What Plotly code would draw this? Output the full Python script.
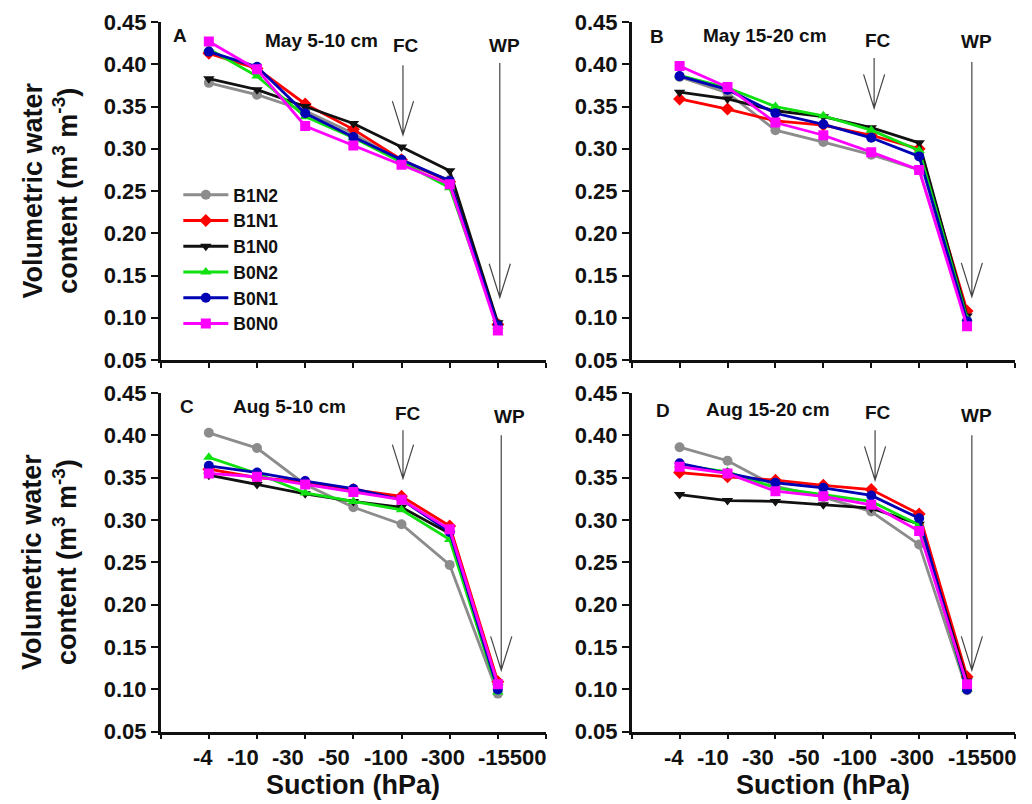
import plotly.graph_objects as go

# ---------------- data ----------------
SUCTION = ["-4", "-10", "-30", "-50", "-100", "-300", "-15500"]
SERIES = ["B1N2", "B1N1", "B1N0", "B0N2", "B0N1", "B0N0"]
PANEL_TITLES = ["May 5-10 cm", "May 15-20 cm", "Aug 5-10 cm", "Aug 15-20 cm"]
PANEL_LETTERS = ["A", "B", "C", "D"]

A_B1N2 = [0.378, 0.364, 0.345, 0.318, 0.284, 0.263, 0.093]
A_B1N1 = [0.413, 0.395, 0.353, 0.323, 0.287, 0.261, 0.092]
A_B1N0 = [0.383, 0.370, 0.350, 0.330, 0.302, 0.274, 0.094]
A_B0N2 = [0.418, 0.386, 0.338, 0.313, 0.284, 0.254, 0.090]
A_B0N1 = [0.415, 0.397, 0.342, 0.314, 0.287, 0.262, 0.091]
A_B0N0 = [0.427, 0.394, 0.327, 0.304, 0.281, 0.258, 0.085]

B_B1N2 = [0.385, 0.366, 0.322, 0.308, 0.293, 0.275, 0.096]
B_B1N1 = [0.359, 0.347, 0.333, 0.328, 0.316, 0.300, 0.108]
B_B1N0 = [0.367, 0.359, 0.345, 0.338, 0.325, 0.307, 0.102]
B_B0N2 = [0.387, 0.372, 0.350, 0.339, 0.322, 0.298, 0.099]
B_B0N1 = [0.386, 0.370, 0.342, 0.329, 0.313, 0.291, 0.096]
B_B0N0 = [0.398, 0.373, 0.331, 0.316, 0.296, 0.275, 0.090]

C_B1N2 = [0.403, 0.385, 0.342, 0.315, 0.295, 0.247, 0.095]
C_B1N1 = [0.360, 0.350, 0.345, 0.336, 0.328, 0.293, 0.109]
C_B1N0 = [0.353, 0.342, 0.331, 0.322, 0.315, 0.284, 0.103]
C_B0N2 = [0.374, 0.355, 0.332, 0.322, 0.312, 0.277, 0.097]
C_B0N1 = [0.364, 0.356, 0.346, 0.337, 0.324, 0.286, 0.100]
C_B0N0 = [0.355, 0.351, 0.342, 0.333, 0.324, 0.289, 0.106]

D_B1N2 = [0.386, 0.370, 0.340, 0.327, 0.310, 0.271, 0.099]
D_B1N1 = [0.356, 0.351, 0.347, 0.341, 0.336, 0.307, 0.115]
D_B1N0 = [0.330, 0.323, 0.322, 0.318, 0.314, 0.295, 0.110]
D_B0N2 = [0.365, 0.357, 0.338, 0.330, 0.322, 0.294, 0.100]
D_B0N1 = [0.367, 0.355, 0.344, 0.338, 0.329, 0.302, 0.100]
D_B0N0 = [0.363, 0.355, 0.334, 0.328, 0.318, 0.287, 0.106]

PANELS = [
    [A_B1N2, A_B1N1, A_B1N0, A_B0N2, A_B0N1, A_B0N0],
    [B_B1N2, B_B1N1, B_B1N0, B_B0N2, B_B0N1, B_B0N0],
    [C_B1N2, C_B1N1, C_B1N0, C_B0N2, C_B0N1, C_B0N0],
    [D_B1N2, D_B1N1, D_B1N0, D_B0N2, D_B0N1, D_B0N0],
]

Y_TICKS = [0.05, 0.10, 0.15, 0.20, 0.25, 0.30, 0.35, 0.40, 0.45]

# ---------------- styling ----------------
COLORS = ["#8c8c8c", "#ff0000", "#111111", "#11e011", "#0000b4", "#ff00ff"]
SYMBOLS = ["circle", "diamond", "triangle-down", "triangle-up", "circle", "square"]
FONT = "Liberation Sans, Arial, sans-serif"

# panel domains (paper coords)
XDOM = [[0.1557, 0.5291], [0.6121, 0.9835], [0.1557, 0.5291], [0.6121, 0.9835]]
YDOM = [[0.5522, 0.9726], [0.5522, 0.9726], [0.0899, 0.5112], [0.0899, 0.5112]]
PX_PER_UNIT = 48.1
# the original category labels are typeset as one spaced string: small shifts (px) from each tick
LABEL_SHIFT_PX = [-6, -14.5, -17, -19.6, -16, -7, 15]
LABEL_Y_PAPER = 1 - 757 / 804

# annotation placements in data units per panel: letter, title, FC, WP
LETTER_POS = [(0.40, 0.4346), (0.52, 0.4326), (0.54, 0.4338), (0.66, 0.4290)]
TITLE_POS = [(3.34, 0.4287), (2.78, 0.4335), (2.68, 0.4338), (2.85, 0.4310)]
FC_TEXT_POS = [(5.10, 0.4228), (5.14, 0.4287), (5.13, 0.4252), (5.14, 0.4264)]
WP_TEXT_POS = [(7.14, 0.4228), (7.20, 0.4264), (7.25, 0.4220), (7.20, 0.4230)]
FC_ARROW = [(5.03, 0.399, 0.3164), (5.06, 0.4075, 0.348), (5.03, 0.406, 0.349), (5.08, 0.406, 0.347)]
WP_ARROW = [(7.04, 0.4015, 0.124), (7.10, 0.4027, 0.125), (7.07, 0.400, 0.1226), (7.10, 0.400, 0.1226)]
HEAD_DX, HEAD_DY = 0.22, 0.040

fig = go.Figure()
xpos = list(range(1, len(SUCTION) + 1))

for p, panel in enumerate(PANELS):
    xa = "x" if p == 0 else f"x{p+1}"
    ya = "y" if p == 0 else f"y{p+1}"
    for s, vals in enumerate(panel):
        fig.add_trace(go.Scatter(
            x=xpos, y=vals, mode="lines+markers", name=SERIES[s],
            xaxis=xa, yaxis=ya, showlegend=(p == 0),
            line=dict(color=COLORS[s], width=2.8),
            marker=dict(color=COLORS[s], symbol=SYMBOLS[s], size=10, line=dict(width=0)),
        ))

layout = dict(
    width=1032, height=804, margin=dict(l=0, r=0, t=0, b=0, autoexpand=False),
    paper_bgcolor="white", plot_bgcolor="white",
    font=dict(family=FONT, color="#111111"),
    legend=dict(x=0.1728, y=0.780, xanchor="left", yanchor="top",
                font=dict(size=17.5, family=FONT, weight="bold", color="#111111"),
                bgcolor="rgba(0,0,0,0)", tracegroupgap=0, itemwidth=45),
    shapes=[], annotations=[],
)

for p in range(4):
    xkey = "xaxis" if p == 0 else f"xaxis{p+1}"
    ykey = "yaxis" if p == 0 else f"yaxis{p+1}"
    yanchor = "y" if p == 0 else f"y{p+1}"
    xanchor = "x" if p == 0 else f"x{p+1}"
    layout[xkey] = dict(
        domain=XDOM[p], anchor=yanchor, range=[0, len(SUCTION) + 1],
        tickvals=list(range(0, len(SUCTION) + 2)), showticklabels=False,
        ticks="outside", ticklen=5, tickwidth=2, tickcolor="#111111",
        showline=True, linecolor="#111111", linewidth=2.5, showgrid=False, zeroline=False,
        automargin=False,
    )
    layout[ykey] = dict(
        domain=YDOM[p], anchor=xanchor, range=[0.05, 0.45],
        tickvals=Y_TICKS, ticktext=[f"{v:.2f}" for v in Y_TICKS],
        ticks="outside", ticklen=7, tickwidth=2, tickcolor="#111111",
        showline=True, linecolor="#111111", linewidth=2.5, showgrid=False, zeroline=False,
        automargin=False,
        tickfont=dict(size=22, family=FONT, weight="bold", color="#111111"),
    )
    xr = "x" if p == 0 else f"x{p+1}"
    yr = "y" if p == 0 else f"y{p+1}"
    txtfont = dict(size=19, family=FONT, weight="bold", color="#111111")
    for (tx, ty), txt in [(LETTER_POS[p], PANEL_LETTERS[p]), (TITLE_POS[p], PANEL_TITLES[p]),
                          (FC_TEXT_POS[p], "FC"), (WP_TEXT_POS[p], "WP")]:
        layout["annotations"].append(dict(x=tx, y=ty, xref=xr, yref=yr, text=txt, showarrow=False,
                                          xanchor="center", yanchor="middle", font=txtfont))
    for (ax, atop, atip) in [FC_ARROW[p], WP_ARROW[p]]:
        path = (f"M {ax},{atop} L {ax},{atip} "
                f"M {ax-HEAD_DX},{atip+HEAD_DY} L {ax},{atip} L {ax+HEAD_DX},{atip+HEAD_DY}")
        layout["shapes"].append(dict(type="path", path=path, xref=xr, yref=yr,
                                     line=dict(color="#444444", width=1.2)))
    # category labels under the bottom panels, placed on the panel's x scale
    if p >= 2:
        for xv, d, lab in zip(xpos, LABEL_SHIFT_PX, SUCTION):
            layout["annotations"].append(dict(
                x=xv + d / PX_PER_UNIT, y=LABEL_Y_PAPER, xref=xr, yref="paper", text=lab,
                showarrow=False, xanchor="center", yanchor="middle",
                font=dict(size=22, family=FONT, weight="bold", color="#111111")))

# axis titles
ytitle = "Volumetric water<br>content (m<sup>3</sup> m<sup>-3</sup>)"
for yc in [(YDOM[0][0] + YDOM[0][1]) / 2, (YDOM[2][0] + YDOM[2][1]) / 2]:
    layout["annotations"].append(dict(x=0.048, y=yc, xref="paper", yref="paper", text=ytitle,
                                      textangle=-90, showarrow=False, xanchor="center", yanchor="middle",
                                      font=dict(size=27, family=FONT, weight="bold", color="#111111")))
for xd in [XDOM[2], XDOM[3]]:
    layout["annotations"].append(dict(x=(xd[0] + xd[1]) / 2, y=0.024, xref="paper", yref="paper",
                                      text="Suction (hPa)", showarrow=False, xanchor="center", yanchor="middle",
                                      font=dict(size=27, family=FONT, weight="bold", color="#111111")))

fig.update_layout(**layout)
fig.write_html("out.html")
